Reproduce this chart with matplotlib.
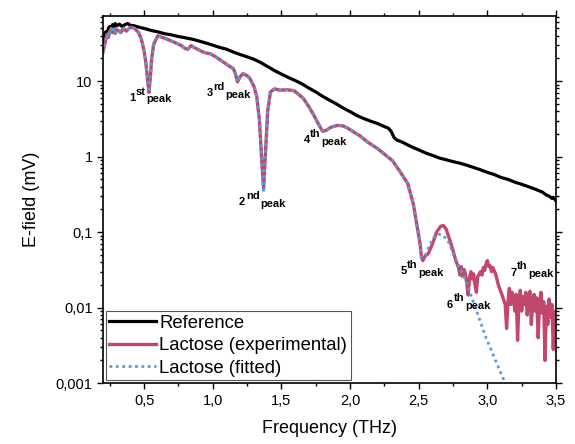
import numpy as np
import matplotlib
matplotlib.use('Agg')
import matplotlib.pyplot as plt
from matplotlib.ticker import FixedLocator, FuncFormatter, LogLocator, MultipleLocator

plt.rcParams['font.family'] = ['Liberation Sans', 'DejaVu Sans']

# reference pulse spectrum (THz, mV)
ref_freq = [0.20, 0.21, 0.22, 0.23, 0.24, 0.25, 0.26, 0.27, 0.28, 0.29, 0.30, 0.32, 0.34, 0.36, 0.38,
            0.40, 0.43, 0.46, 0.50, 0.55, 0.60, 0.65, 0.70, 0.75, 0.80, 0.85, 0.90, 0.95, 1.00,
            1.05, 1.10, 1.15, 1.20, 1.25, 1.30, 1.35, 1.40, 1.45, 1.50, 1.55, 1.60, 1.65, 1.70,
            1.75, 1.80, 1.85, 1.90, 1.95, 2.00, 2.05, 2.10, 2.15, 2.20, 2.25, 2.28, 2.30, 2.32,
            2.34, 2.38, 2.42, 2.46, 2.50, 2.55, 2.60, 2.65, 2.70, 2.75, 2.80, 2.85, 2.90, 2.95,
            3.00, 3.05, 3.10, 3.15, 3.20, 3.25, 3.30, 3.35, 3.40, 3.43, 3.45, 3.47, 3.48, 3.50]
ref_val = [34, 40, 45, 43, 50, 53, 48, 56, 52, 58, 54, 57, 53, 56, 58,
           55, 54, 52, 50, 47, 45, 42.5, 41, 39, 37.5, 36, 34, 32, 30,
           28, 26.5, 24.3, 22.5, 21, 19.5, 17.6, 15.6, 13.8, 12.4, 11.2, 10.2, 9.2, 8.1,
           7.2, 6.3, 5.6, 5.0, 4.4, 3.95, 3.5, 3.2, 2.95, 2.75, 2.5, 2.38, 2.15, 1.8,
           1.66, 1.56, 1.43, 1.32, 1.23, 1.12, 1.04, 0.96, 0.91, 0.86, 0.82, 0.77, 0.72, 0.67,
           0.62, 0.58, 0.53, 0.50, 0.46, 0.43, 0.40, 0.37, 0.34, 0.31, 0.30, 0.28, 0.29, 0.26]

# lactose transmitted spectrum, measured
lac_freq = [0.20, 0.21, 0.22, 0.23, 0.24, 0.25, 0.26, 0.27, 0.28, 0.29, 0.30, 0.31, 0.33, 0.35,
            0.37, 0.40, 0.43, 0.46, 0.48, 0.50, 0.51, 0.52, 0.535, 0.545, 0.555, 0.57, 0.60, 0.65,
            0.69, 0.73, 0.77, 0.80, 0.82, 0.84, 0.88, 0.935, 0.985, 1.03, 1.08, 1.12, 1.15,
            1.165, 1.18, 1.20, 1.22, 1.25, 1.27, 1.30, 1.32, 1.34, 1.355, 1.37, 1.385, 1.40,
            1.42, 1.45, 1.49, 1.54, 1.59, 1.62, 1.66, 1.70, 1.73, 1.77, 1.80, 1.83, 1.86,
            1.91, 1.95, 1.98, 2.03, 2.07, 2.13, 2.20, 2.25, 2.31, 2.36, 2.42, 2.46, 2.49,
            2.51, 2.52, 2.53, 2.545, 2.57, 2.60, 2.63, 2.66, 2.68, 2.70, 2.73, 2.75, 2.77, 2.79,
            2.80, 2.81, 2.82, 2.83, 2.84, 2.85, 2.86, 2.87, 2.88, 2.89, 2.90, 2.91, 2.92, 2.93,
            2.95, 2.96, 2.97, 2.98, 2.99, 3.00, 3.01, 3.02, 3.03, 3.04, 3.06, 3.08, 3.10, 3.12,
            3.13, 3.14, 3.15, 3.16, 3.17, 3.18, 3.19, 3.20, 3.21, 3.22, 3.23, 3.24, 3.25, 3.26,
            3.27, 3.28, 3.29, 3.30, 3.31, 3.32, 3.33, 3.34, 3.35, 3.36, 3.37, 3.38, 3.39, 3.40,
            3.41, 3.42, 3.43, 3.44, 3.45, 3.46, 3.47, 3.48, 3.49, 3.50]
lac_val = [24, 29, 35, 42, 38, 46, 50, 44, 49, 43, 48, 47, 44, 50,
           46, 52, 50, 44, 36, 25, 19, 13, 7.1, 11, 20, 31, 40, 37,
           34.6, 32, 29.7, 27, 26.5, 29.5, 27, 24, 23, 20.5, 17.7, 15.8, 14.7,
           12.5, 9.8, 11.5, 12.6, 11.8, 10.9, 8.5, 6.3, 3.0, 1.0, 0.38, 1.2, 4.0,
           7.2, 7.9, 7.6, 7.7, 7.5, 6.8, 5.9, 4.6, 3.7, 2.7, 2.16, 2.25, 2.45,
           2.6, 2.55, 2.4, 2.1, 1.9, 1.55, 1.28, 1.08, 0.88, 0.65, 0.44, 0.24, 0.115,
           0.07, 0.046, 0.042, 0.048, 0.052, 0.07, 0.1, 0.12, 0.122, 0.11, 0.075, 0.057, 0.042, 0.034,
           0.027, 0.035, 0.026, 0.032, 0.028, 0.021, 0.0147, 0.025, 0.03, 0.024, 0.028, 0.02, 0.016, 0.026,
           0.03, 0.027, 0.034, 0.031, 0.038, 0.042, 0.035, 0.036, 0.03, 0.034, 0.028, 0.02, 0.016, 0.0125,
           0.011, 0.0053, 0.012, 0.018, 0.011, 0.016, 0.0137, 0.009, 0.015, 0.0037, 0.012, 0.017, 0.009, 0.014,
           0.011, 0.016, 0.008, 0.013, 0.0165, 0.006, 0.012, 0.015, 0.009, 0.0135, 0.004, 0.011, 0.016, 0.0085,
           0.012, 0.002, 0.0105, 0.006, 0.013, 0.0075, 0.011, 0.0028, 0.009, 0.005]

# fitted model tail (below 2.5 THz the fit lies on the measurement)
fit_tail_freq = [2.53, 2.55, 2.58, 2.61, 2.64, 2.67, 2.71, 2.74, 2.78, 2.82, 2.85, 2.92, 2.99, 3.07, 3.13]
fit_tail_val = [0.048, 0.05, 0.068, 0.085, 0.095, 0.092, 0.08, 0.058, 0.04, 0.028, 0.021, 0.0092, 0.004, 0.0018, 0.001]

# absorption peak labels: (number, suffix, freq, value)
peak_num = ['1', '2', '3', '4', '5', '6', '7']
peak_suf = ['st', 'nd', 'rd', 'th', 'th', 'th', 'th']
peak_freq = [0.39, 1.19, 0.955, 1.66, 2.365, 2.705, 3.165]
peak_val = [5.5, 0.23, 6.3, 1.5, 0.028, 0.0100, 0.0265]

xticks = [0.5, 1.0, 1.5, 2.0, 2.5, 3.0, 3.5]
yticks = [0.001, 0.01, 0.1, 1, 10]
ytick_labels = ['0,001', '0,01', '0,1', '1', '10']

red = '#C2476C'
blue = '#5B9BD5'

lac_f = np.array(lac_freq)
lac_v = np.array(lac_val)
keep = lac_f <= 2.52
fit_f = np.concatenate([lac_f[keep], fit_tail_freq])
fit_v = np.concatenate([lac_v[keep], fit_tail_val])
fit_v[np.argmin(np.abs(fit_f - 1.37))] = 0.33

fig = plt.figure(figsize=(5.75, 4.44), dpi=100)
ax = fig.add_axes([0.179, 0.137, 0.788, 0.828])

ax.plot(ref_freq, ref_val, color='black', lw=2.3, label='Reference')
ax.plot(lac_f, lac_v, color=red, lw=2.4, label='Lactose (experimental)')
ax.plot(fit_f, fit_v, color=blue, lw=2.0, ls=(0, (1, 1.3)), label='Lactose (fitted)')

ax.set_yscale('log')
ax.set_xlim(0.2, 3.5)
ax.set_ylim(0.001, 74)

ax.xaxis.set_major_locator(FixedLocator(xticks))
ax.xaxis.set_minor_locator(MultipleLocator(0.25))
ax.xaxis.set_major_formatter(FuncFormatter(lambda x, p: ('%.1f' % x).replace('.', ',')))
ax.yaxis.set_major_locator(FixedLocator(yticks))
ax.yaxis.set_minor_locator(LogLocator(base=10, subs=np.arange(2, 10)))
ax.yaxis.set_major_formatter(FuncFormatter(lambda y, p: ytick_labels[yticks.index(y)] if y in yticks else ''))
ax.yaxis.set_minor_formatter(FuncFormatter(lambda y, p: ''))

ax.tick_params(which='both', direction='out', top=True, right=True, width=1.0, labelsize=10.5)
ax.tick_params(which='major', length=4.5, pad=3)
ax.tick_params(which='minor', length=2.5)
for s in ax.spines.values():
    s.set_linewidth(1.2)

ax.set_xlabel('Frequency (THz)', fontsize=13, labelpad=9)
ax.set_ylabel('E-field (mV)', fontsize=13, labelpad=11)

# superscript widths in points at 8 pt bold
sup_w = {'st': 7.1, 'nd': 9.8, 'rd': 8.0, 'th': 7.6}
for n, s, f, v in zip(peak_num, peak_suf, peak_freq, peak_val):
    kw = dict(fontsize=8, fontweight='bold', textcoords='offset points', ha='left', va='baseline')
    ax.annotate(n, (f, v), xytext=(0, 0), **kw)
    ax.annotate(s, (f, v), xytext=(5.0, 4.5), **kw)
    ax.annotate('peak', (f, v), xytext=(5.6 + sup_w[s], -1.2), **kw)

leg = ax.legend(loc='lower left', bbox_to_anchor=(0.0, 0.0), borderaxespad=0.15, fontsize=13.3,
                fancybox=False, framealpha=1, edgecolor='#555555', handlelength=2.5,
                handletextpad=0.2, labelspacing=0.3, borderpad=0.2)
leg.get_frame().set_linewidth(0.8)

fig.savefig('out.png', dpi=100)
